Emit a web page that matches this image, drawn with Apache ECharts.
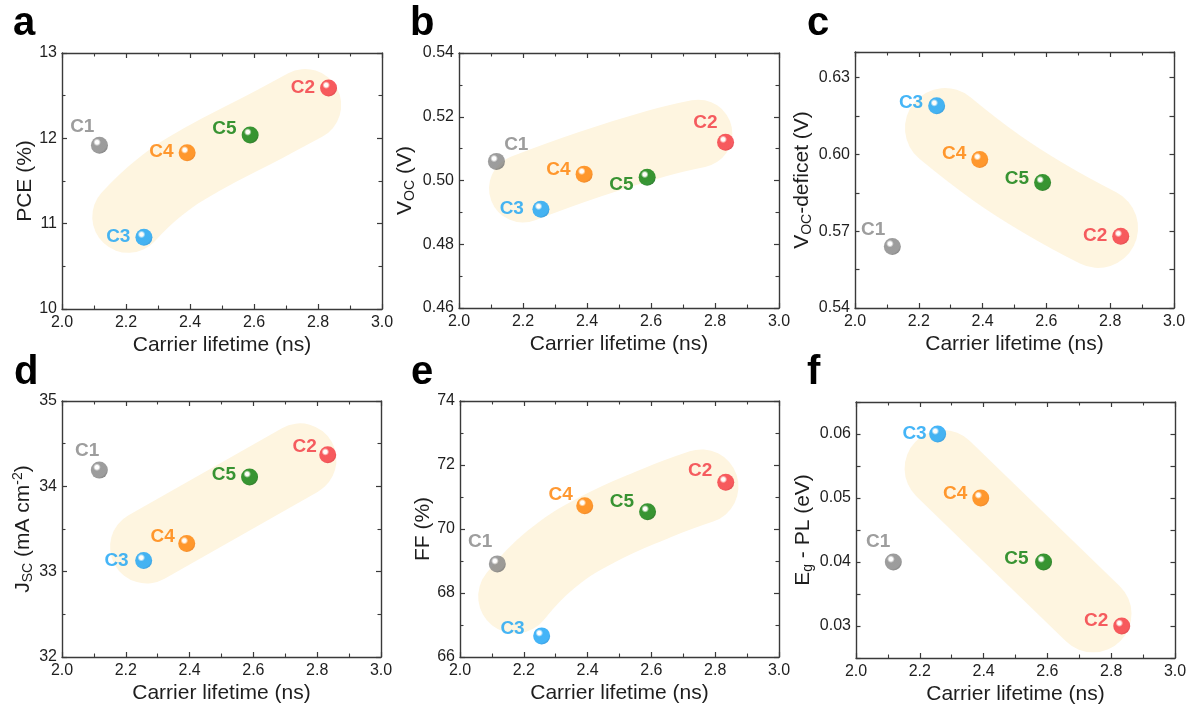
<!DOCTYPE html>
<html>
<head>
<meta charset="utf-8">
<script src="https://cdn.jsdelivr.net/npm/echarts@6/dist/echarts.min.js"></script>
<style>
html,body{margin:0;padding:0;background:#fff;}
#chart{width:1193px;height:706px;}
</style>
</head>
<body>
<div id="chart"></div>
<script>
// ---------- data ----------
const sampleNames = ['C1', 'C2', 'C3', 'C4', 'C5'];
const carrierLifetime = [2.117, 2.833, 2.256, 2.391, 2.588];
const pce = [11.92, 12.59, 10.84, 11.83, 12.04];
const voc = [0.506, 0.512, 0.491, 0.502, 0.501];
const vocDeficit = [0.564, 0.568, 0.619, 0.598, 0.589];
const jsc = [34.19, 34.37, 33.13, 33.33, 34.11];
const ff = [68.91, 71.46, 66.66, 70.73, 70.54];
const egMinusPl = [0.040, 0.030, 0.060, 0.050, 0.040];

const xAxisTitle = 'Carrier lifetime (ns)';
const xTickRange = [2.0, 3.0, 0.2];
const panelLetters = ['a', 'b', 'c', 'd', 'e', 'f'];

// highlight band centre-lines (data coordinates)
const bandA = [[2.207, 11.08], [2.306, 11.43], [2.431, 11.74], [2.640, 12.15], [2.760, 12.39]];
const bandB = [[2.200, 0.4975], [2.409, 0.5051], [2.618, 0.5116], [2.748, 0.5147]];
const bandC = [[2.282, 0.6103], [2.444, 0.5947], [2.600, 0.5823], [2.762, 0.5713]];
const bandD = [[2.265, 33.29], [2.746, 34.31]];
const bandE = [[2.173, 67.89], [2.283, 69.03], [2.429, 69.97], [2.616, 70.81], [2.757, 71.33]];
const bandF = [[2.273, 0.0546], [2.743, 0.0319]];

// ---------- styles ----------
const FONT = '"Liberation Sans", Arial, sans-serif';
const sphereColors = [
  ['#848484', '#5f5f5f'],
  ['#f5333c', '#d01c26'],
  ['#16a2f6', '#0a80d2'],
  ['#ff8000', '#e26800'],
  ['#067c06', '#005400']
];
const labelColors = ['#848484', '#f2353d', '#17a2f5', '#ff8000', '#067a06'];
const bandColor = '#fef5e0';
const axisColor = '#3a3a3a';
const textColor = '#1e1e1e';

function sphere(i) {
  return {
    type: 'radial', x: 0.36, y: 0.33, r: 0.75,
    colorStops: [
      { offset: 0, color: '#ffffff' },
      { offset: 0.14, color: '#ffffff' },
      { offset: 0.3, color: sphereColors[i][0] },
      { offset: 0.78, color: sphereColors[i][0] },
      { offset: 1, color: sphereColors[i][1] }
    ]
  };
}

const fmtInt = v => String(Math.round(v));
const fmt2 = v => v.toFixed(2);
const fmtStep = step => v => {
  const k = v / step;
  return Math.abs(Math.round(k) - k) < 1e-6 ? v.toFixed(2) : '';
};

const panels = [
  { y: pce, min: 10, max: 13, interval: 1, minor: true, fmt: fmtInt, name: 'PCE (%)', gap: 26,
    band: bandA, bandWidth: 72, grid: { left: 62, top: 53, width: 320, height: 256 }, letter: [13, 4],
    offs: [[8.5, -18], [0, 0], [0, -1], [0, -1], [0, -6]] },
  { y: voc, min: 0.46, max: 0.54, interval: 0.02, minor: true, fmt: fmt2, name: '{m|V}{s|OC}{m| (V)}', gap: 42,
    band: bandB, bandWidth: 68, grid: { left: 459, top: 53, width: 320, height: 255 }, letter: [410, 4],
    offs: [[45.5, -17], [5.5, -19], [-3.5, 0], [0, -4], [0, 7]] },
  { y: vocDeficit, min: 0.54, max: 0.64, interval: 0.015, minor: false, fmt: fmtStep(0.03), name: '{m|V}{s|OC}{m|-deficet (V)}', gap: 41,
    band: bandC, bandWidth: 80, grid: { left: 855, top: 52, width: 319, height: 256 }, letter: [807, 4],
    offs: [[6.5, -17], [0, -1], [0, -3], [0, -6], [0, -4]] },
  { y: jsc, min: 32, max: 35, interval: 1, minor: true, fmt: fmtInt, name: '{m|J}{s|SC}{m| (mA cm}{p|-2}{m|)}', gap: 27,
    band: bandD, bandWidth: 73, grid: { left: 62, top: 401, width: 319, height: 256 }, letter: [14, 353],
    offs: [[13.5, -19], [2.5, -8], [-1.5, 0], [1.5, -7], [0, -2]] },
  { y: ff, min: 66, max: 74, interval: 2, minor: true, fmt: fmtInt, name: 'FF (%)', gap: 25,
    band: bandE, bandWidth: 74, grid: { left: 460, top: 401, width: 319, height: 256 }, letter: [411, 353],
    offs: [[8.5, -22], [0, -12], [-3.5, -7], [1.5, -11], [0, -10]] },
  { y: egMinusPl, min: 0.025, max: 0.065, interval: 0.005, minor: false, fmt: fmtStep(0.01), name: '{m|E}{s|g}{m| - PL (eV)}', gap: 41,
    band: bandF, bandWidth: 77, grid: { left: 856, top: 402, width: 319, height: 256 }, letter: [807, 353],
    offs: [[10.5, -20], [0, -5], [2.5, 0], [0, -4], [-1.5, -3]] }
];

const rich = {
  m: { fontSize: 21, fontFamily: FONT, color: textColor, lineHeight: 24 },
  s: { fontSize: 14, fontFamily: FONT, color: textColor, lineHeight: 11, verticalAlign: 'bottom' },
  p: { fontSize: 14, fontFamily: FONT, color: textColor, lineHeight: 14, verticalAlign: 'top' }
};

const grids = [], xAxes = [], yAxes = [], series = [], titles = [];

function boxAxisCommon(min, max, interval, minor, majLen) {
  return {
    min: min, max: max, interval: interval,
    axisLine: { show: true, onZero: false, lineStyle: { color: axisColor, width: 1.4 } },
    axisTick: { show: true, inside: true, length: majLen, lineStyle: { color: axisColor, width: 1.2 } },
    minorTick: { show: minor, splitNumber: 2, length: 3.5, lineStyle: { color: axisColor, width: 1.1 } },
    splitLine: { show: false },
    minorSplitLine: { show: false }
  };
}

panels.forEach((p, i) => {
  grids.push(Object.assign({ containLabel: false }, p.grid));
  // bottom x axis
  xAxes.push(Object.assign(boxAxisCommon(xTickRange[0], xTickRange[1], xTickRange[2], true, 5), {
    type: 'value', gridIndex: i, position: 'bottom',
    name: xAxisTitle, nameLocation: 'middle', nameGap: 26,
    nameTextStyle: { fontSize: 21, fontFamily: FONT, color: textColor },
    axisLabel: { show: true, margin: 6, fontSize: 16, fontFamily: FONT, color: textColor, formatter: v => v.toFixed(1) }
  }));
  // top x axis (box)
  xAxes.push(Object.assign(boxAxisCommon(xTickRange[0], xTickRange[1], xTickRange[2], true, 5), {
    type: 'value', gridIndex: i, position: 'top', axisLabel: { show: false }
  }));
  // left y axis
  yAxes.push(Object.assign(boxAxisCommon(p.min, p.max, p.interval, p.minor, p.minor ? 5 : 4.5), {
    type: 'value', gridIndex: i, position: 'left',
    name: p.name, nameLocation: 'middle', nameGap: p.gap,
    nameTextStyle: { fontSize: 21, fontFamily: FONT, color: textColor, rich: rich },
    axisLabel: { show: true, margin: 5, fontSize: 16, fontFamily: FONT, color: textColor, formatter: p.fmt }
  }));
  // right y axis (box)
  yAxes.push(Object.assign(boxAxisCommon(p.min, p.max, p.interval, p.minor, p.minor ? 5 : 4.5), {
    type: 'value', gridIndex: i, position: 'right', axisLabel: { show: false }
  }));

  // highlight band
  series.push({
    type: 'line', xAxisIndex: 2 * i, yAxisIndex: 2 * i, data: p.band,
    smooth: 0.45, showSymbol: false, silent: true, z: 1, clip: false,
    lineStyle: { color: bandColor, width: p.bandWidth, cap: 'round', join: 'round' }
  });

  // spheres
  series.push({
    type: 'scatter', xAxisIndex: 2 * i, yAxisIndex: 2 * i, symbolSize: 17, z: 3,
    data: sampleNames.map((n, k) => ({
      name: n,
      value: [carrierLifetime[k], p.y[k]],
      itemStyle: { color: sphere(k) },
      label: {
        show: true, position: 'left', distance: 5, offset: p.offs[k],
        formatter: n, fontSize: 19, fontWeight: 'bold', fontFamily: FONT, color: labelColors[k]
      }
    }))
  });

  titles.push({
    text: panelLetters[i], left: p.letter[0], top: p.letter[1], padding: 0,
    textStyle: { fontSize: 40, fontWeight: 'bold', fontFamily: FONT, color: '#000' }
  });
});

const chart = echarts.init(document.getElementById('chart'), null, { renderer: 'canvas' });
chart.setOption({
  animation: false,
  backgroundColor: '#ffffff',
  title: titles,
  grid: grids,
  xAxis: xAxes,
  yAxis: yAxes,
  series: series
});
</script>
</body>
</html>
